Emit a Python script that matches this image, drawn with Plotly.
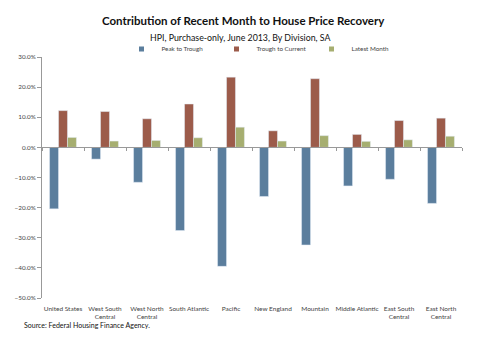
import plotly.graph_objects as go

categories = ["United States", "West South<br>Central", "West North<br>Central", "South Atlantic",
              "Pacific", "New England", "Mountain", "Middle Atlantic", "East South<br>Central",
              "East North<br>Central"]
series_names = ["Peak to Trough", "Trough to Current", "Latest Month"]
peak_to_trough = [-20.4, -3.9, -11.6, -27.6, -39.5, -16.3, -32.4, -12.8, -10.6, -18.6]
trough_to_current = [12.2, 11.9, 9.5, 14.4, 23.3, 5.5, 22.8, 4.3, 8.9, 9.7]
latest_month = [3.3, 2.1, 2.3, 3.2, 6.7, 2.1, 3.9, 2.0, 2.5, 3.7]
colors = ["#5B7E9D", "#9C5B4A", "#A6AE70"]

font = "Lato, 'Open Sans', sans-serif"

fig = go.Figure()
for name, vals, col in zip(series_names, [peak_to_trough, trough_to_current, latest_month], colors):
    fig.add_trace(go.Bar(name=name, x=categories, y=vals, marker_color=col, showlegend=False))
    # legend entry with a small square swatch
    fig.add_trace(go.Scatter(name=name, x=[None], y=[None], mode="markers",
                             marker=dict(symbol="square", size=5, color=col)))
# invisible trace carrying the zero-line category axis
fig.add_trace(go.Scatter(x=categories, y=[0]*len(categories), xaxis="x2", mode="none",
                         showlegend=False, hoverinfo="skip"))

H_PLOT = 241
def py(pix):
    return (360 - 62 - pix) / H_PLOT

fig.update_layout(
    width=480, height=360,
    paper_bgcolor="white", plot_bgcolor="white",
    margin=dict(l=42, r=18, t=57, b=62, autoexpand=False),
    barmode="group", bargap=0.36, bargroupgap=0,
    font=dict(family=font, color="#444"),
    legend=dict(orientation="h", x=(264 - 42) / 420, xanchor="center", y=py(49), yanchor="middle",
                font=dict(size=6.3, color="#444"), itemwidth=30, entrywidth=50,
                bgcolor="rgba(0,0,0,0)", tracegroupgap=0),
    xaxis=dict(showline=False, ticks="outside", ticklen=4, tickcolor="rgba(0,0,0,0)",
               showgrid=False, zeroline=False,
               tickfont=dict(size=6.5, color="#444"), tickangle=0),
    xaxis2=dict(overlaying="x", matches="x", anchor="free", position=0.625,
                showline=True, linecolor="#999", linewidth=1, ticks="outside",
                tickson="boundaries", ticklen=3, tickcolor="#999",
                showticklabels=False, showgrid=False, zeroline=False),
    yaxis=dict(range=[-50, 30], dtick=10, tickformat=".1f", ticksuffix="%",
               showline=True, linecolor="#999", ticks="outside", ticklen=4, tickcolor="#999",
               showgrid=False, zeroline=False, tickfont=dict(size=6.3, color="#444")),
    annotations=[
        dict(text="<b>Contribution of Recent Month to House Price Recovery</b>",
             x=(243 - 42) / 420, y=py(20), xref="paper", yref="paper", showarrow=False,
             xanchor="center", yanchor="middle", font=dict(size=11.5, color="#111")),
        dict(text="HPI, Purchase-only, June 2013, By Division, SA",
             x=(240 - 42) / 420, y=py(37), xref="paper", yref="paper", showarrow=False,
             xanchor="center", yanchor="middle", font=dict(size=8.8, color="#111")),
        dict(text="Source: Federal Housing Finance Agency.", x=(22 - 42) / 420, y=py(325),
             xref="paper", yref="paper", showarrow=False, xanchor="left", yanchor="middle",
             font=dict(size=7, color="#111")),
    ],
)

fig.write_html("out.html", post_script="document.body.style.margin='0';",
               config={"displayModeBar": False})
